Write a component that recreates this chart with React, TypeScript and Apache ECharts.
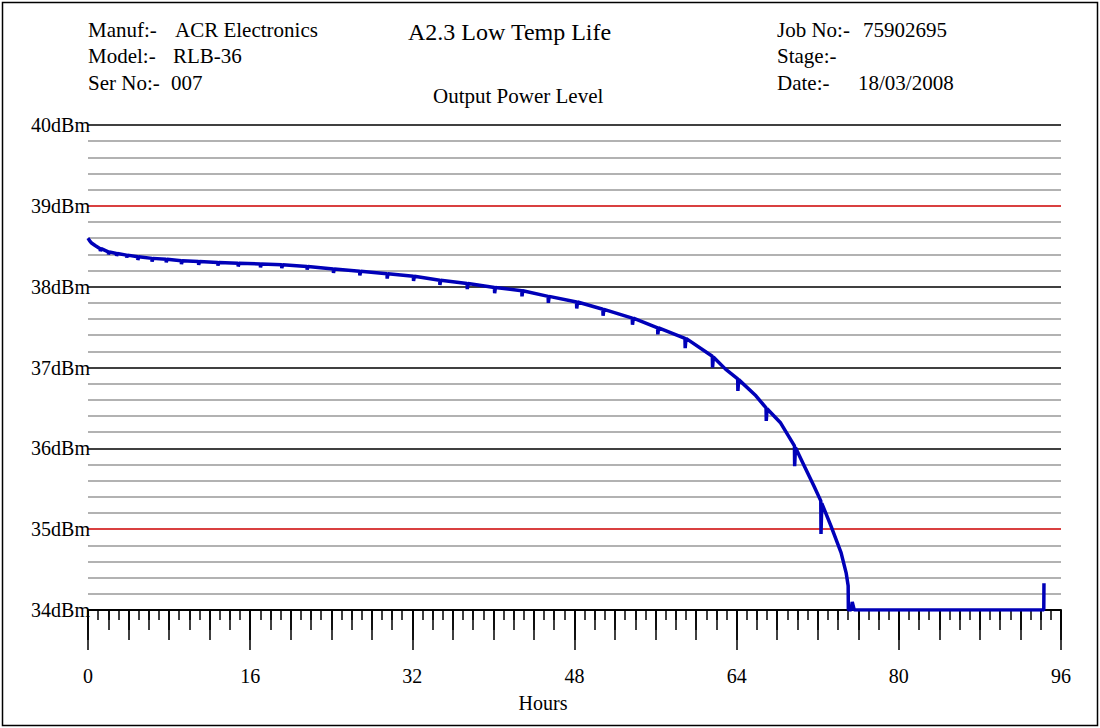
import React, { useEffect, useRef } from "react";
import * as echarts from "echarts";

// ---- data ----
const hours: number[] = [
  0, 0.15, 0.35, 0.7,
  1.2, 1.22, 1.3,
  2.0, 2.02, 2.1,
  2.8, 2.82, 2.9,
  3.8, 3.82, 3.9,
  4.9, 4.92, 5.0,
  6.3, 6.32, 6.4,
  7.7, 7.72, 7.8,
  9.2, 9.22, 9.3,
  10.9, 10.92, 11.0,
  12.8, 12.82, 12.9,
  14.8, 14.82, 14.9,
  17.0, 17.02, 17.1,
  19.1, 19.12, 19.2,
  21.6, 21.62, 21.7,
  24.2, 24.22, 24.3,
  26.8, 26.82, 26.9,
  29.5, 29.52, 29.6,
  32.1, 32.12, 32.2,
  34.7, 34.72, 34.8,
  37.4, 37.42, 37.5,
  40.1, 40.12, 40.2,
  42.8, 42.82, 42.9,
  45.4, 45.42, 45.5,
  48.2, 48.22, 48.3,
  50.8, 50.82, 50.9,
  53.7, 53.72, 53.8,
  56.2, 56.22, 56.3,
  58.9, 58.92, 59.0,
  61.6, 61.62, 61.7,
  62.9,
  64.1, 64.12, 64.2,
  65.9,
  66.9, 66.92, 67.0,
  68.3,
  69.7, 69.72, 69.8,
  70.6, 71.6,
  72.3, 72.32, 72.4,
  73.3, 74.3, 74.8, 75.0, 75.02, 75.3, 75.4, 75.6,
  94.3, 94.32,
];

const dBm: number[] = [
  38.6, 38.57, 38.54, 38.51,
  38.47, 38.44, 38.47,
  38.43, 38.4, 38.43,
  38.41, 38.38, 38.41,
  38.39, 38.36, 38.39,
  38.37, 38.33, 38.37,
  38.35, 38.31, 38.35,
  38.34, 38.3, 38.34,
  38.32, 38.28, 38.32,
  38.31, 38.27, 38.31,
  38.3, 38.26, 38.3,
  38.29, 38.25, 38.29,
  38.28, 38.24, 38.28,
  38.27, 38.23, 38.27,
  38.25, 38.21, 38.25,
  38.22, 38.17, 38.22,
  38.19, 38.14, 38.19,
  38.16, 38.1, 38.16,
  38.13, 38.07, 38.13,
  38.08, 38.02, 38.08,
  38.04, 37.97, 38.04,
  37.99, 37.92, 37.99,
  37.95, 37.88, 37.95,
  37.88, 37.8, 37.88,
  37.81, 37.73, 37.81,
  37.72, 37.64, 37.72,
  37.61, 37.53, 37.61,
  37.49, 37.41, 37.49,
  37.36, 37.24, 37.36,
  37.14, 37.0, 37.13,
  36.98,
  36.86, 36.71, 36.85,
  36.65,
  36.5, 36.34, 36.49,
  36.32,
  36.03, 35.78, 36.01,
  35.8, 35.54,
  35.35, 34.94, 35.32,
  35.04, 34.71, 34.46, 34.3, 34.0, 34.0, 34.1, 34.0,
  34.0, 34.33,
];

const yTickColors: string[] = ["#000000", "#cc0000", "#000000", "#000000", "#000000", "#cc0000", "#000000"]; // 34..40
const headerLeft = [
  ["Manuf:-", "ACR Electronics"],
  ["Model:-", "RLB-36"],
  ["Ser No:-", "007"],
];
const headerRight = [
  ["Job No:-", "75902695"],
  ["Stage:-", ""],
  ["Date:-", "18/03/2008"],
];
const chartTitle = "A2.3 Low Temp Life";
const chartSubtitle = "Output Power Level";
const xAxisName = "Hours";

const FONT = '"Liberation Serif", "Times New Roman", serif';

function txt(text: string, x: number, y: number, size: number, align = "left") {
  return {
    type: "text",
    x,
    y,
    silent: true,
    style: {
      text,
      fill: "#000",
      font: `${size}px ${FONT}`,
      align,
      verticalAlign: "middle",
      textAlign: align,
      textVerticalAlign: "middle",
    },
  };
}

export default function App() {
  const ref = useRef<HTMLDivElement>(null);
  useEffect(() => {
    if (!ref.current) return;
    const chart = echarts.init(ref.current, undefined, { renderer: "svg" });

    const data = hours.map((h, i) => [h, dBm[i]]);

    const tickAxis = (interval: number, len: number, extra: any = {}) => ({
      type: "value",
      gridIndex: 0,
      position: "bottom",
      min: 0,
      max: 96,
      interval,
      splitLine: { show: false },
      axisLine: { show: false },
      axisLabel: { show: false },
      axisTick: { show: true, inside: false, length: len, lineStyle: { color: "#000", width: 1.5 } },
      ...extra,
    });

    const rows = [30, 56, 83];
    const graphic: any[] = [
      {
        type: "rect",
        silent: true,
        shape: { x: 2.5, y: 2.5, width: 1095, height: 723 },
        style: { fill: "none", stroke: "#000", lineWidth: 1.5 },
      },
      txt(chartTitle, 408, 32, 24),
      txt(chartSubtitle, 433, 96, 21),
      txt(xAxisName, 543, 703, 20, "center"),
    ];
    headerLeft.forEach((r, i) => {
      graphic.push(txt(r[0], 88, rows[i], 21));
      graphic.push(txt(r[1], [175, 173, 171][i], rows[i], 21));
    });
    headerRight.forEach((r, i) => {
      graphic.push(txt(r[0], 777, rows[i], 21));
      if (r[1]) graphic.push(txt(r[1], [863, 863, 858][i], rows[i], 21));
    });

    chart.setOption({
      animation: false,
      backgroundColor: "#ffffff",
      grid: { left: 88, right: 39, top: 125, bottom: 118, containLabel: false },
      xAxis: [
        tickAxis(16, 40, {
          axisLine: { show: true, lineStyle: { color: "#000", width: 2 } },
          axisLabel: {
            show: true,
            margin: 56,
            color: "#000",
            fontFamily: FONT,
            fontSize: 20,
          },
        }),
        tickAxis(4, 30),
        tickAxis(2, 20),
        tickAxis(1, 10),
      ],
      yAxis: {
        type: "value",
        min: 34,
        max: 40,
        interval: 1,
        axisLine: { show: false },
        axisTick: { show: false },
        axisLabel: {
          formatter: "{value}dBm",
          color: "#000",
          fontFamily: FONT,
          fontSize: 20,
          margin: -2,
          padding: [0, 0, 6, 0],
        },
        splitLine: { show: true, lineStyle: { color: yTickColors, width: 1.5 } },
        minorTick: { show: false, splitNumber: 5 },
        minorSplitLine: { show: true, lineStyle: { color: "#999999", width: 1.5 } },
      },
      graphic,
      series: [
        {
          type: "line",
          xAxisIndex: 0,
          yAxisIndex: 0,
          data,
          showSymbol: false,
          symbol: "none",
          clip: true,
          lineStyle: { color: "#0000b8", width: 3.5 },
          z: 5,
        },
      ],
    });
    return () => chart.dispose();
  }, []);
  return (
    <div
      ref={ref}
      style={{ position: "absolute", left: 0, top: 0, width: 1100, height: 728, background: "#fff" }}
    />
  );
}
